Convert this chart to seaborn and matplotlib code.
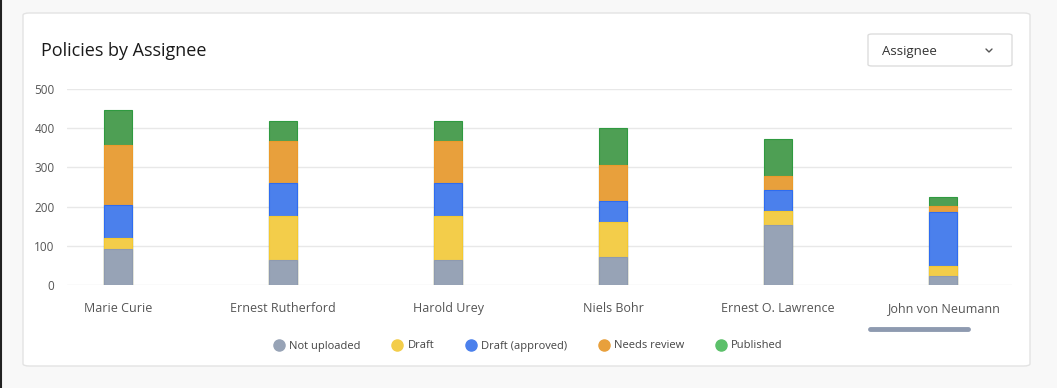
import numpy as np
import pandas as pd
import seaborn as sns
import matplotlib.pyplot as plt
from matplotlib.patches import FancyBboxPatch
from matplotlib.lines import Line2D

assignees = ["Marie Curie", "Ernest Rutherford", "Harold Urey", "Niels Bohr",
             "Ernest O. Lawrence", "John von Neumann"]
statuses = ["Not uploaded", "Draft", "Draft (approved)", "Needs review", "Published"]
not_uploaded = [92, 65, 65, 71, 154, 23]
draft = [28, 112, 112, 90, 35, 26]
draft_approved = [84, 84, 84, 53, 53, 137]
needs_review = [153, 106, 106, 91, 35, 16]
published = [89, 51, 51, 95, 95, 23]
y_ticks = [0, 100, 200, 300, 400, 500]

colors = ["#97a3b6", "#f3cd4a", "#4b80ec", "#e8a03c", "#4e9f54"]
edges = ["#8e9ab0", "#f5c92e", "#2e6cf0", "#ec9a2a", "#2f9a40"]
legend_colors = ["#97a3b6", "#f3cd4a", "#4b80ec", "#e8a03c", "#5cc06a"]

df = pd.DataFrame({"assignee": assignees, "Not uploaded": not_uploaded, "Draft": draft,
                   "Draft (approved)": draft_approved, "Needs review": needs_review,
                   "Published": published})

sns.set_style("white")
plt.rcParams["font.family"] = ["Open Sans", "DejaVu Sans"]

fig = plt.figure(figsize=(10.57, 3.88), dpi=100)
fig.patch.set_facecolor("#f8f8f8")
W, H = 1057, 388

# card behind everything
card = FancyBboxPatch((23 / W, 1 - 366 / H), (1030 - 23) / W, (366 - 13) / H,
                      boxstyle="round,pad=0,rounding_size=0.006", transform=fig.transFigure,
                      facecolor="white", edgecolor="#e3e3e3", linewidth=1, zorder=-5)
fig.patches.append(card)
fig.add_artist(Line2D([0.5 / W, 0.5 / W], [0, 1], color="#222222", lw=1.5, transform=fig.transFigure))

fig.text(41 / W, 1 - 51 / H, "Policies by Assignee", fontsize=13, color="#1a1a1a", va="center")

# dropdown
dd = FancyBboxPatch((868 / W, 1 - 66 / H), (1012 - 868) / W, (66 - 34) / H,
                    boxstyle="round,pad=0,rounding_size=0.004", transform=fig.transFigure,
                    facecolor="white", edgecolor="#dddddd", linewidth=1, zorder=-4)
fig.patches.append(dd)
fig.text(882 / W, 1 - 51 / H, "Assignee", fontsize=9.5, color="#333333", va="center")
fig.add_artist(Line2D([986 / W, 989 / W, 992 / W], [1 - 49 / H, 1 - 52 / H, 1 - 49 / H],
                      color="#555555", lw=1, transform=fig.transFigure))

# scrollbar
fig.add_artist(Line2D([870 / W, 968 / W], [1 - 329 / H, 1 - 329 / H], color="#8e9ab0", lw=3.5,
                      solid_capstyle="round", transform=fig.transFigure))

ax = fig.add_axes([67 / W, 1 - 285 / H, (1012 - 67) / W, (285 - 89) / H])
ax.set_facecolor("none")

# cumulative tops, drawn from the top down so lower segments cover the upper ones
bottom = np.zeros(len(assignees))
tops = []
for s in statuses:
    bottom = bottom + df[s].values
    tops.append(bottom.copy())
for s, c, e, t in reversed(list(zip(statuses, colors, edges, tops))):
    sns.barplot(x=df["assignee"], y=t, color=c, ax=ax, width=0.165, saturation=1,
                edgecolor=e, linewidth=0.8, zorder=2)

ax.set_xlim(-0.309, 5.418)
ax.set_ylim(0, 500)
ax.set_yticks(y_ticks)
ax.grid(axis="y", color="#e8e8e8", lw=1, zorder=0)
ax.set_axisbelow(True)
for sp in ax.spines.values():
    sp.set_visible(False)
ax.set_xlabel("")
ax.set_ylabel("")
ax.tick_params(axis="y", length=0, pad=9, labelsize=8.5, labelcolor="#555555")
ax.tick_params(axis="x", length=0, pad=12, labelsize=9, labelcolor="#555555")

handles = [Line2D([], [], marker="o", ls="", markersize=8, markerfacecolor=c,
                  markeredgecolor=c) for c in legend_colors]
fig.legend(handles, statuses, loc="center", bbox_to_anchor=(528 / W, 1 - 346 / H), ncol=5,
           frameon=False, fontsize=8, labelcolor="#444444", handletextpad=0.4,
           columnspacing=2.8, handlelength=1)

fig.savefig("out.png", dpi=100, facecolor=fig.get_facecolor())
